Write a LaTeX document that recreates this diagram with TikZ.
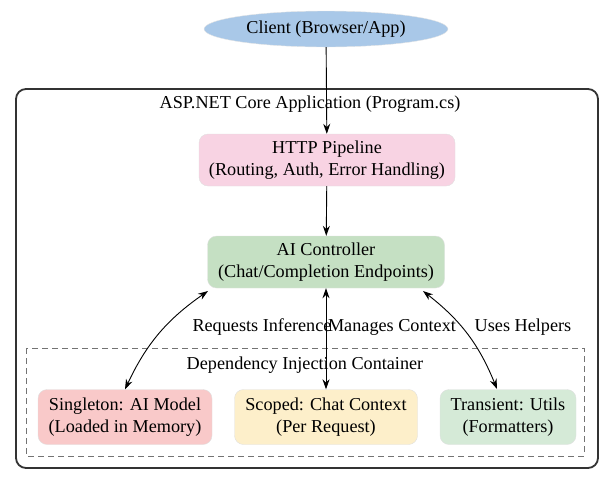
\documentclass[tikz,border=0pt]{standalone}
\usepackage{fontspec}
\setmainfont{Liberation Serif}
\usetikzlibrary{arrows.meta,shapes.geometric}
\begin{document}
\begin{tikzpicture}[x=1pt,y=-1pt,font=\fontsize{18.2}{22}\selectfont,
 box/.style={rounded corners=9pt,draw=black!12,align=center,minimum height=52pt,inner sep=2pt},
 arr/.style={-{Stealth[length=10pt,width=7pt]},line width=0.9pt},
 barr/.style={{Stealth[length=10pt,width=7pt]}-{Stealth[length=10pt,width=7pt]},line width=0.9pt}]
\useasboundingbox (0,0) rectangle (612,483);
\draw[rounded corners=10pt,line width=1.8pt,draw=black!80] (16,89) rectangle (598,468);
\node (app) at (310,104) {ASP.NET Core Application (Program.cs)};
\draw[dashed,dash pattern=on 6pt off 4pt,draw=black!55,line width=0.8pt] (26,348) rectangle (584,456);
\node (di) at (305,365) {Dependency Injection Container};
\node[ellipse,fill={rgb,255:red,169;green,200;blue,232},draw=black!10,minimum width=244pt,minimum height=36pt,inner sep=0pt] (client) at (326,29) {Client (Browser/App)};
\node[box,fill={rgb,255:red,248;green,211;blue,227},minimum width=256pt] (http) at (327,160) {HTTP Pipeline\\(Routing, Auth, Error Handling)};
\node[box,fill={rgb,255:red,197;green,224;blue,195},minimum width=237pt] (ai) at (326,262) {AI Controller\\(Chat/Completion Endpoints)};
\node[box,fill={rgb,255:red,249;green,201;blue,201},minimum width=174pt,minimum height=55pt] (single) at (125,417) {Singleton: AI Model\\(Loaded in Memory)};
\node[box,fill={rgb,255:red,253;green,239;blue,202},minimum width=183pt,minimum height=55pt] (scoped) at (326,417) {Scoped: Chat Context\\(Per Request)};
\node[box,fill={rgb,255:red,213;green,234;blue,215},minimum width=136pt,minimum height=55pt] (trans) at (508,417) {Transient: Utils\\(Formatters)};
\draw[arr] (client) -- (http);
\draw[arr] (http) -- (ai);
\draw[barr] (208,291) to[bend right=15] (single.north);
\draw[barr] (ai) -- (scoped);
\draw[barr] (423,291) to[bend left=15] (497,389);
\node (l1) at (262,327) {Requests Inference};
\node (l2) at (392,327) {Manages Context};
\node (l3) at (523,327) {Uses Helpers};
\end{tikzpicture}
\end{document}
